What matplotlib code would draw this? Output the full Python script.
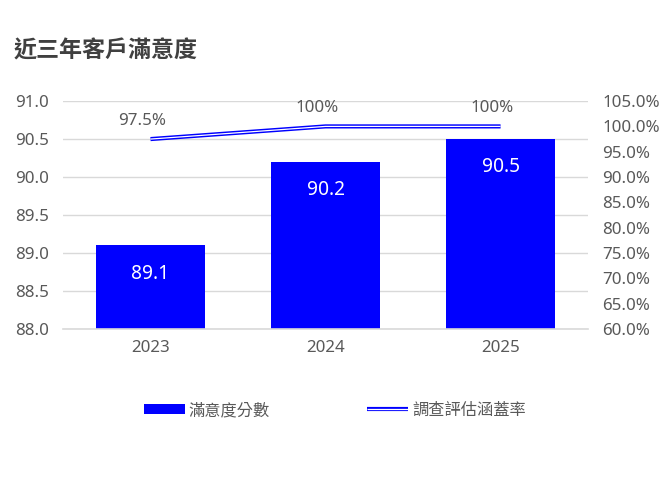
import matplotlib
matplotlib.use("Agg")
import matplotlib.pyplot as plt
from matplotlib.lines import Line2D
from matplotlib.patches import Patch
from matplotlib.legend_handler import HandlerBase

plt.rcParams['font.family'] = ['Noto Sans', 'Noto Sans CJK TC', 'DejaVu Sans']

years = ["2023", "2024", "2025"]
scores = [89.1, 90.2, 90.5]
coverage = [97.5, 100.0, 100.0]
coverage_labels = ["97.5%", "100%", "100%"]
left_ticks = [88.0, 88.5, 89.0, 89.5, 90.0, 90.5, 91.0]
right_ticks = [60, 65, 70, 75, 80, 85, 90, 95, 100, 105]

BLUE = "#0000FF"
GRAY = "#595959"

fig = plt.figure(figsize=(6.63, 4.79), dpi=100)
ax = fig.add_axes([0.095, 0.313, 0.792, 0.476])
x = list(range(len(years)))

ax.bar(x, [s - 88.0 for s in scores], bottom=88.0, width=0.62, color=BLUE, zorder=3)
ax.set_ylim(88.0, 91.0)
ax.set_xlim(-0.5, 2.5)
ax.set_yticks(left_ticks)
ax.set_yticklabels([f"{t:.1f}" for t in left_ticks])
ax.set_xticks(x)
ax.set_xticklabels(years)
ax.grid(axis='y', color="#d9d9d9", linewidth=1, zorder=0)
for name, s in ax.spines.items():
    s.set_visible(False)
ax.spines['bottom'].set_visible(True)
ax.spines['bottom'].set_color("#d9d9d9")
ax.spines['bottom'].set_linewidth(1.2)
ax.spines['bottom'].set_zorder(4)
ax.tick_params(axis='both', length=0, labelsize=12.2, colors=GRAY)
ax.tick_params(axis='x', pad=8)
ax.tick_params(axis='y', pad=10)

for xi, s in zip(x, scores):
    ax.text(xi, s - 0.24, f"{s}", ha='center', va='top', color='white', fontsize=13.8, zorder=5)

ax2 = ax.twinx()
ax2.set_ylim(60, 105)
ax2.set_yticks(right_ticks)
ax2.set_yticklabels([f"{t:.1f}%" for t in right_ticks])
for s in ax2.spines.values():
    s.set_visible(False)
ax2.tick_params(axis='y', length=0, labelsize=12.2, colors=GRAY, pad=10)

ax2.plot(x, coverage, color=BLUE, linewidth=3.0, zorder=4, solid_capstyle='butt')
ax2.plot(x, coverage, color='white', linewidth=0.9, zorder=5, solid_capstyle='butt')
for xi, c, lab in zip(x, coverage, coverage_labels):
    ax2.text(xi - 0.05, c + 2.0, lab, ha='center', va='bottom', color=GRAY, fontsize=12.2)

fig.text(0.021, 0.893, "近三年客戶滿意度", fontsize=16.6, fontweight='bold', color="#404040", ha='left', va='center')


class DoubleLine:
    pass


class HandlerDouble(HandlerBase):
    def create_artists(self, legend, orig_handle, xdescent, ydescent, width, height, fontsize, trans):
        y = height / 2 - ydescent
        l1 = Line2D([-xdescent, width - xdescent], [y, y], color=BLUE, linewidth=3.0, transform=trans, solid_capstyle='butt')
        l2 = Line2D([-xdescent, width - xdescent], [y, y], color='white', linewidth=0.9, transform=trans, solid_capstyle='butt')
        return [l1, l2]


lh1 = Patch(facecolor=BLUE, edgecolor='none')
dh = DoubleLine()
leg = fig.legend([lh1, dh], ["滿意度分數", "調查評估涵蓋率"],
                 handler_map={DoubleLine: HandlerDouble()},
                 loc='center', bbox_to_anchor=(0.505, 0.142), ncol=2, frameon=False,
                 fontsize=11.7, handlelength=2.5, handleheight=0.55, columnspacing=6.0,
                 handletextpad=0.25)
for t in leg.get_texts():
    t.set_color(GRAY)

fig.savefig("out.png", dpi=100)
